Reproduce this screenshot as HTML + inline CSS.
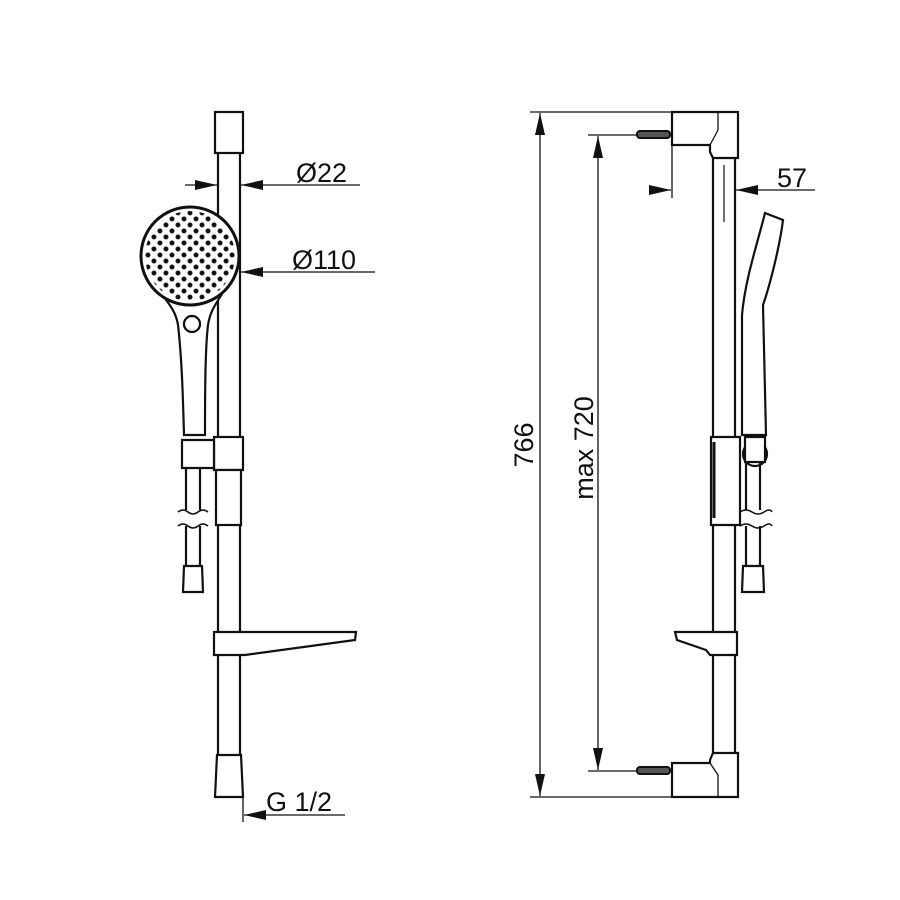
<!DOCTYPE html>
<html><head><meta charset="utf-8"><style>body{margin:0;background:#fff}svg{display:block}text{font-family:"Liberation Sans",sans-serif;fill:#111}</style></head><body>
<svg width="900" height="900" viewBox="0 0 900 900" xmlns="http://www.w3.org/2000/svg">
<defs>
<pattern id="dots" width="8.5" height="8.5" patternUnits="userSpaceOnUse" patternTransform="translate(190 255) rotate(45)">
<circle cx="4.25" cy="4.25" r="2.5" fill="#111"/>
</pattern>
<clipPath id="hc"><circle cx="190" cy="256" r="45"/></clipPath>
<marker id="ar" viewBox="0 0 22 10" refX="22" refY="5" markerWidth="22" markerHeight="10" markerUnits="userSpaceOnUse" orient="auto"><path d="M0 0L22 5L0 10z" fill="#111"/></marker>
</defs>
<g fill="none" stroke="#111" stroke-width="2.2">
<!-- LEFT -->
<rect x="215" y="112" width="28" height="41"/>
<line x1="218" y1="153" x2="218" y2="755"/><line x1="240" y1="153" x2="240" y2="755"/>
<path d="M217 755 L241 755 L243 797 L215 797 Z"/>
<!-- shower head -->
<path d="M160 292 C170 305 176 312 178 325 C182 360 183 400 184 435 L205 435 C205 400 205 350 208 325 C210 312 215 305 222 294" fill="#fff"/>
<circle cx="190" cy="256" r="49" fill="#fff" stroke-width="3"/>
<circle cx="192" cy="324" r="8"/>
<!-- slider -->
<rect x="214" y="437" width="29" height="33" fill="#fff"/>
<rect x="216" y="470" width="25" height="55" fill="#fff"/>
<path d="M182 440 L214 440 L214 468 L182 468 Z" fill="#fff"/>
<line x1="186" y1="468" x2="186" y2="510"/><line x1="200" y1="468" x2="200" y2="510"/>
<line x1="186" y1="526" x2="186" y2="566"/><line x1="200" y1="526" x2="200" y2="566"/>
<path d="M178 512 q5 -4 10 0 t10 0 t10 0" stroke-width="1.5"/>
<path d="M178 526 q5 -4 10 0 t10 0 t10 0" stroke-width="1.5"/>
<path d="M184 566 L202 566 L203 592 L183 592 Z"/>
<!-- soap dish -->
<path d="M214 632 L356 632 L355 640 L245 655 L214 655 Z" fill="#fff"/>
<!-- dims left -->
<line x1="185" y1="185" x2="217" y2="185" marker-end="url(#ar)" stroke-width="1.3"/>
<line x1="360" y1="185" x2="241" y2="185" marker-end="url(#ar)" stroke-width="1.3"/>
<line x1="375" y1="272" x2="241" y2="272" marker-end="url(#ar)" stroke-width="1.3"/>
<line x1="243" y1="797" x2="243" y2="822" stroke-width="1.3"/>
<line x1="345" y1="815" x2="244" y2="815" marker-end="url(#ar)" stroke-width="1.3"/>
<!-- RIGHT -->
<path d="M672 112 L738 112 L738 158 L713 158 L710 152 L710 145 L672 145 Z" fill="#fff"/>
<path d="M718 112 L718 130 L710 145" stroke-width="1.3"/>
<line x1="713" y1="158" x2="713" y2="753"/><line x1="735" y1="158" x2="735" y2="753"/>
<line x1="724" y1="165" x2="724" y2="222" stroke-width="1.2"/>
<path d="M672 797 L738 797 L738 753 L713 753 L710 760 L710 763 L672 763 Z" fill="#fff"/>
<path d="M718 797 L718 775 L710 763" stroke-width="1.3"/>
<rect x="637" y="131" width="33" height="7" rx="3" stroke-width="2" fill="#555"/>
<rect x="637" y="767" width="33" height="7" rx="3" stroke-width="2" fill="#555"/>
<!-- side shower -->
<path d="M765 213 L783 220 C780 245 770 285 763 305 L766 435 L742 435 L742 315 C745 280 757 245 765 213 Z" fill="#fff"/>
<!-- right slider -->
<path d="M711 437 L740 437 L740 525 L711 525 Z" fill="#fff"/>
<line x1="714" y1="442" x2="714" y2="518" stroke-width="3"/>
<circle cx="755" cy="454" r="12" fill="#fff"/>
<rect x="745" y="437" width="20" height="25" fill="#fff"/>
<line x1="746" y1="462" x2="746" y2="510"/><line x1="760" y1="462" x2="760" y2="510"/>
<line x1="746" y1="526" x2="746" y2="566"/><line x1="760" y1="526" x2="760" y2="566"/>
<path d="M740 512 q6 -4 12 0 t12 0 t8 0" stroke-width="1.5"/>
<path d="M740 526 q6 -4 12 0 t12 0 t8 0" stroke-width="1.5"/>
<path d="M743 566 L763 566 L764 592 L742 592 Z"/>
<path d="M675 632 L737 632 L737 655 L710 655 L706 650 L677 640 Z" fill="#fff"/>
<!-- dims right -->
<line x1="530" y1="112" x2="672" y2="112" stroke-width="1.3"/>
<line x1="530" y1="797" x2="672" y2="797" stroke-width="1.3"/>
<line x1="540" y1="440" x2="540" y2="113" marker-end="url(#ar)" stroke-width="1.3"/>
<line x1="540" y1="440" x2="540" y2="796" marker-end="url(#ar)" stroke-width="1.3"/>
<line x1="588" y1="135" x2="637" y2="135" stroke-width="1.3"/>
<line x1="588" y1="771" x2="637" y2="771" stroke-width="1.3"/>
<line x1="598" y1="450" x2="598" y2="136" marker-end="url(#ar)" stroke-width="1.3"/>
<line x1="598" y1="450" x2="598" y2="770" marker-end="url(#ar)" stroke-width="1.3"/>
<line x1="672" y1="125" x2="672" y2="198" stroke-width="1.3"/>
<line x1="650" y1="190" x2="671" y2="190" marker-end="url(#ar)" stroke-width="1.3"/>
<line x1="815" y1="190" x2="736" y2="190" marker-end="url(#ar)" stroke-width="1.3"/>
</g>
<circle cx="190" cy="256" r="45" fill="url(#dots)" clip-path="url(#hc)"/>
<circle cx="192" cy="324" r="8" fill="#fff" stroke="#111" stroke-width="2.2"/>
<text x="296" y="182" font-size="27">Ø22</text>
<text x="292" y="269" font-size="27">Ø110</text>
<text x="266" y="811" font-size="27">G 1/2</text>
<text x="777" y="187" font-size="27">57</text>
<text transform="translate(533 445) rotate(-90)" text-anchor="middle" font-size="27">766</text>
<text transform="translate(593 448) rotate(-90)" text-anchor="middle" font-size="27">max 720</text>
</svg>
</body></html>
